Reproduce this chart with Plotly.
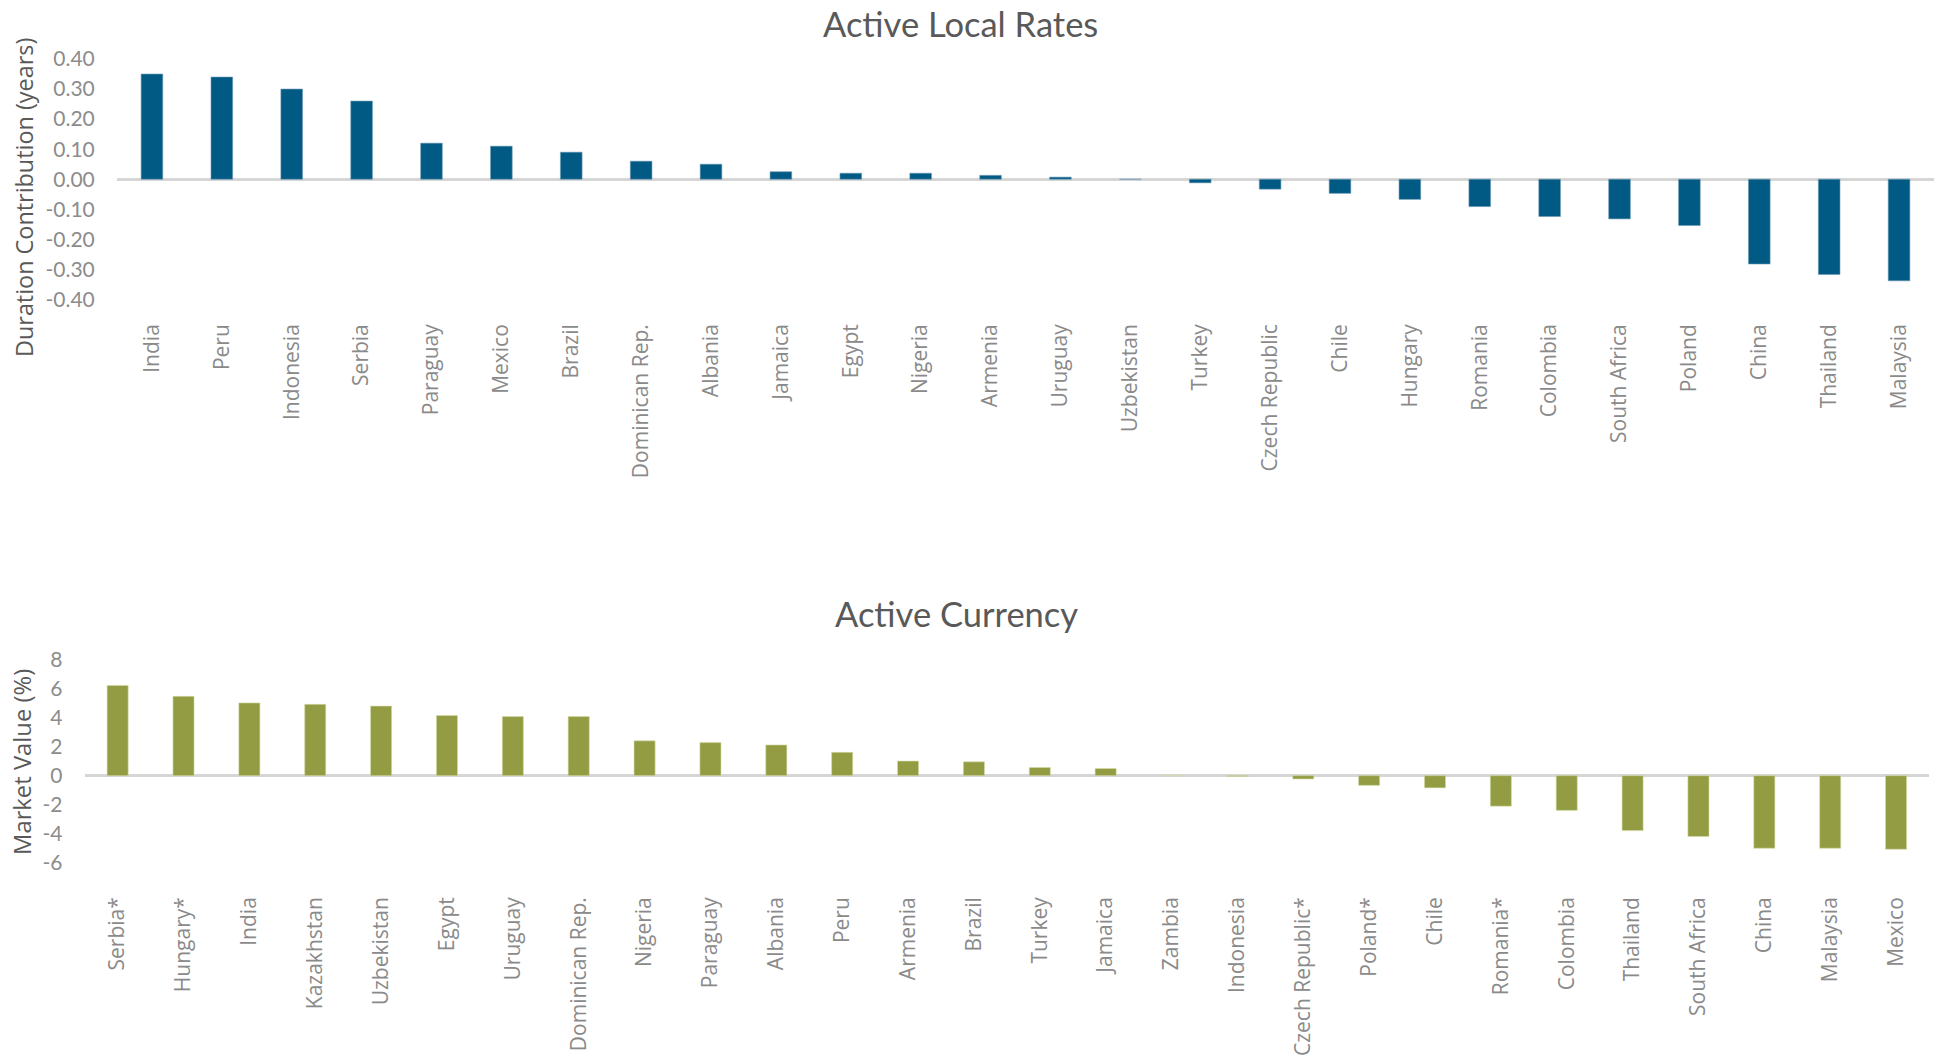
import plotly.graph_objects as go

W, H = 1942, 1060

# ---------------- data ----------------
rates_countries = ["India", "Peru", "Indonesia", "Serbia", "Paraguay", "Mexico", "Brazil",
                   "Dominican Rep.", "Albania", "Jamaica", "Egypt", "Nigeria", "Armenia",
                   "Uruguay", "Uzbekistan", "Turkey", "Czech Republic", "Chile", "Hungary",
                   "Romania", "Colombia", "South Africa", "Poland", "China", "Thailand", "Malaysia"]
rates_values = [0.35, 0.34, 0.30, 0.26, 0.12, 0.11, 0.09, 0.06, 0.05, 0.025, 0.02, 0.02, 0.013,
                0.007, 0.0, -0.012, -0.033, -0.047, -0.067, -0.091, -0.124, -0.132, -0.154,
                -0.282, -0.317, -0.338]

fx_countries = ["Serbia*", "Hungary*", "India", "Kazakhstan", "Uzbekistan", "Egypt", "Uruguay",
                "Dominican Rep.", "Nigeria", "Paraguay", "Albania", "Peru", "Armenia", "Brazil",
                "Turkey", "Jamaica", "Zambia", "Indonesia", "Czech Republic*", "Poland*", "Chile",
                "Romania*", "Colombia", "Thailand", "South Africa", "China", "Malaysia", "Mexico"]
fx_values = [6.2, 5.45, 5.0, 4.9, 4.78, 4.13, 4.06, 4.06, 2.39, 2.27, 2.11, 1.60, 1.0, 0.95,
             0.56, 0.49, 0.0, -0.05, -0.23, -0.67, -0.84, -2.1, -2.39, -3.78, -4.18, -4.99,
             -4.99, -5.06]

rates_tickvals = [0.4, 0.3, 0.2, 0.1, 0.0, -0.1, -0.2, -0.3, -0.4]
rates_ticktext = ["0.40", "0.30", "0.20", "0.10", "0.00", "-0.10", "-0.20", "-0.30", "-0.40"]
fx_tickvals = [8, 6, 4, 2, 0, -2, -4, -6]
fx_ticktext = ["8", "6", "4", "2", "0", "-2", "-4", "-6"]

title_rates = "Active Local Rates"
title_fx = "Active Currency"
ytitle_rates = "Duration Contribution (years)"
ytitle_fx = "Market Value (%)"

# ---------------- style ----------------
BLUE = "#005A84"
OLIVE = "#939C43"
TICK_GRAY = "#8C8C8C"
CAT_GRAY = "#8A8A8A"
TITLE_GRAY = "#595959"
ZERO_GRAY = "#D6D6D6"


def px_x(p):
    return p / W


def px_y(p):
    return 1 - p / H


fig = go.Figure()
fig.add_trace(go.Bar(x=rates_countries, y=rates_values, xaxis="x", yaxis="y",
                     width=0.31, marker=dict(color=BLUE, line=dict(color="#6f9bb6", width=0.6)),
                     hoverinfo="x+y"))
fig.add_trace(go.Bar(x=fx_countries, y=fx_values, xaxis="x2", yaxis="y2",
                     width=0.32, marker=dict(color=OLIVE, line=dict(color="#d3dba6", width=0.6)),
                     hoverinfo="x+y"))

cat_font = dict(family="Open Sans", size=21, color=CAT_GRAY)
tick_font = dict(family="Lato", size=21, color=TICK_GRAY)

fig.update_layout(
    width=W, height=H,
    margin=dict(l=0, r=0, t=0, b=0),
    paper_bgcolor="white", plot_bgcolor="white",
    showlegend=False,
    xaxis=dict(domain=[px_x(117), px_x(1934)], anchor="y", showline=False, showgrid=False,
               ticks="", tickangle=-90, tickfont=cat_font, automargin=False),
    yaxis=dict(domain=[px_y(319), px_y(53)], anchor="x", range=[-0.465, 0.42],
               tickvals=rates_tickvals, ticktext=rates_ticktext, tickfont=tick_font,
               showgrid=False, showline=False, zeroline=True, zerolinecolor=ZERO_GRAY,
               zerolinewidth=2.5, ticks="outside", ticklen=17, tickcolor="rgba(0,0,0,0)",
               automargin=False),
    xaxis2=dict(domain=[px_x(84.7), px_x(1929)], anchor="y2", showline=False, showgrid=False,
                ticks="", tickangle=-90, tickfont=cat_font, automargin=False),
    yaxis2=dict(domain=[px_y(892), px_y(652)], anchor="x2", range=[-8.0, 8.5],
                tickvals=fx_tickvals, ticktext=fx_ticktext, tickfont=tick_font,
                showgrid=False, showline=False, zeroline=True, zerolinecolor=ZERO_GRAY,
                zerolinewidth=2.5, ticks="outside", ticklen=17, tickcolor="rgba(0,0,0,0)",
                automargin=False),
    annotations=[
        dict(text=title_rates, x=px_x(960), y=px_y(23), xref="paper", yref="paper",
             showarrow=False, xanchor="center", yanchor="middle",
             font=dict(family="Lato", size=34.5, color=TITLE_GRAY)),
        dict(text=title_fx, x=px_x(956), y=px_y(613), xref="paper", yref="paper",
             showarrow=False, xanchor="center", yanchor="middle",
             font=dict(family="Lato", size=34.5, color=TITLE_GRAY)),
        dict(text=ytitle_rates, x=px_x(24), y=px_y(198), xref="paper", yref="paper",
             showarrow=False, xanchor="center", yanchor="middle", textangle=-90,
             font=dict(family="Open Sans", size=23.4, color=TITLE_GRAY)),
        dict(text=ytitle_fx, x=px_x(22), y=px_y(762), xref="paper", yref="paper",
             showarrow=False, xanchor="center", yanchor="middle", textangle=-90,
             font=dict(family="Open Sans", size=23.8, color=TITLE_GRAY)),
    ],
)

fig.write_html("out.html", config={"displayModeBar": False},
               post_script="document.body.style.margin='0';document.body.style.overflow='hidden';")
